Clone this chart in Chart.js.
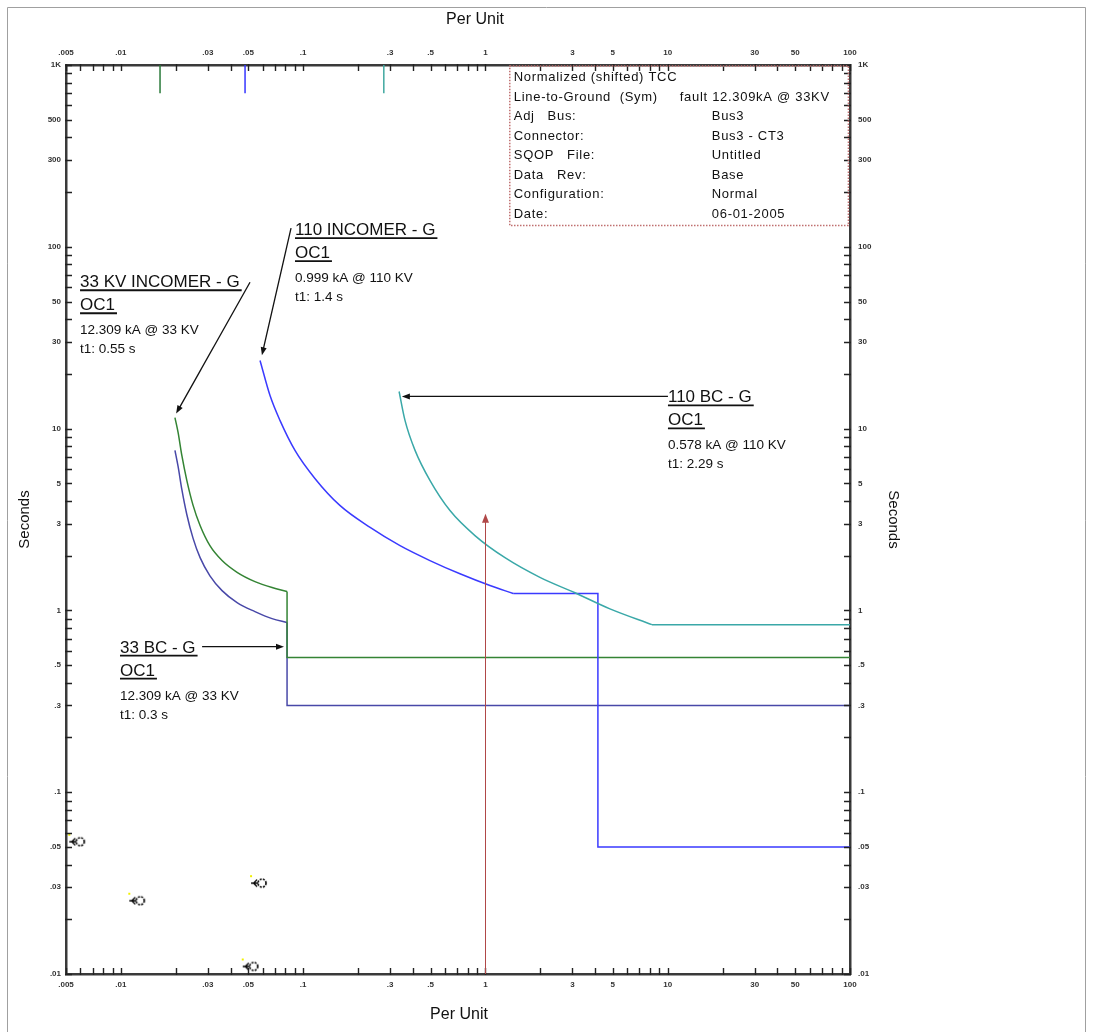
<!DOCTYPE html>
<html><head><meta charset="utf-8">
<script src="https://cdn.jsdelivr.net/npm/chart.js@4/dist/chart.umd.min.js"></script>
<style>html,body{margin:0;padding:0;background:#fff;}canvas{display:block;}</style>
</head><body>
<canvas id="c" width="1107" height="1032"></canvas>
<script>
// ---- tick labels ----
const xTickValues = [0.005,0.01,0.03,0.05,0.1,0.3,0.5,1,3,5,10,30,50,100];
const xTickLabels = ['.005','.01','.03','.05','.1','.3','.5','1','3','5','10','30','50','100'];
const yTickValues = [0.01,0.03,0.05,0.1,0.3,0.5,1,3,5,10,30,50,100,300,500,1000];
const yTickLabels = ['.01','.03','.05','.1','.3','.5','1','3','5','10','30','50','100','300','500','1K'];

// ---- series (per unit, seconds); the inverse-time curve ends at index "knee", the rest is the step part ----
const incomer33X = [0.0198,0.0206,0.0216,0.0230,0.0249,0.0272,0.0308,0.0359,0.0434,0.0544,0.0675,0.0816,0.0816,100];
const incomer33Y = [11.5,9.53,7.12,5.19,3.78,2.93,2.27,1.88,1.62,1.44,1.335,1.27,0.55,0.55];
const incomer33Knee = 11;
const bc33X = [0.0198,0.0206,0.0216,0.0230,0.0249,0.0272,0.0308,0.0359,0.0434,0.0544,0.0675,0.0816,0.0816,100];
const bc33Y = [7.59,6.19,4.63,3.37,2.49,1.95,1.55,1.285,1.104,0.985,0.901,0.857,0.30,0.30];
const bc33Knee = 11;
const incomer110X = [0.0580,0.0658,0.0746,0.0902,0.116,0.159,0.233,0.340,0.496,0.725,1.059,1.42,4.14,4.14,100];
const incomer110Y = [23.7,15.2,11.1,7.59,5.32,3.78,2.86,2.27,1.88,1.59,1.37,1.24,1.24,0.05,0.05];
const incomer110Knee = 11;
const bc110X = [0.336,0.362,0.411,0.496,0.639,0.876,1.28,1.99,3.10,4.82,8.19,100];
const bc110Y = [16.0,11.1,7.59,5.19,3.54,2.58,1.95,1.52,1.25,1.02,0.835,0.835];
const bc110Knee = 10;
// fault markers at the top edge
const faultMarkX = [0.0164,0.048,0.277];
const faultMarkTop = 1000, faultMarkBottom = 700;
// reference arrow at 1 per unit
const refArrowX = 1, refArrowY = [0.01, 3.4];
// small device symbols near the bottom left
const symbolX = [0.00584,0.01246,0.0580,0.0522];
const symbolY = [0.0534,0.0253,0.0316,0.0110];

const infoRows = [
  ['Normalized (shifted) TCC','',''],
  ['Line-to-Ground  (Sym)','fault 12.309kA @ 33KV',''],
  ['Adj   Bus:','','Bus3'],
  ['Connector:','','Bus3 - CT3'],
  ['SQOP   File:','','Untitled'],
  ['Data   Rev:','','Base'],
  ['Configuration:','','Normal'],
  ['Date:','','06-01-2005']
];
const infoBox = {x0:1.36, x1:98, y0:1000, y1:131};

const labels = [
  {lines:['33 KV INCOMER - G','OC1','12.309 kA @ 33 KV','t1: 0.55 s'], x:0.00597, y:59.9, from:[0.0511,63.8], to:[0.0201,12.1]},
  {lines:['110 INCOMER - G','OC1','0.999 kA @ 110 KV','t1: 1.4 s'], x:0.0902, y:115.8, from:[0.0858,126.6], to:[0.0594,25.3]},
  {lines:['110 BC - G','OC1','0.578 kA @ 110 KV','t1: 2.29 s'], x:10.03, y:13.94, from:[10.03,15.04], to:[0.348,15.04]},
  {lines:['33 BC - G','OC1','12.309 kA @ 33 KV','t1: 0.3 s'], x:0.00989, y:0.586, from:[0.0279,0.632], to:[0.0785,0.632]}
];

const FONT = '"Liberation Sans", Arial, sans-serif';
const pts = (xs, ys) => xs.map((x,i)=>({x, y: ys[i]}));

function makeSymbol(){
  const c=document.createElement('canvas'); c.width=24; c.height=18;
  const g=c.getContext('2d');
  g.fillStyle='#f0f000'; g.fillRect(2,1,2,2);
  g.strokeStyle='#000'; g.lineWidth=1.6;
  g.setLineDash([2,1.2]);
  g.beginPath(); g.arc(14,9,4,0,Math.PI*2); g.stroke();
  g.setLineDash([]);
  g.lineWidth=1.3;
  g.beginPath(); g.moveTo(3,9); g.lineTo(10,9); g.moveTo(9,5.5); g.lineTo(5.5,9); g.lineTo(9,12.5); g.stroke();
  return c;
}

function minorValues(min,max){
  const out=[];
  for(let e=-4;e<=4;e++){ for(let m=1;m<=9;m++){ const v=+(m*Math.pow(10,e)).toPrecision(6); if(v>=min*0.9999 && v<=max*1.0001) out.push(v);} }
  return out;
}

function tickCb(values, labs){
  return function(value){ const i=values.findIndex(v=>Math.abs(v-value)/v<1e-6); return i>=0?labs[i]:''; };
}

const tickFont = {family: FONT, size: 8, weight: 'bold'};
function axis(position, values, labs, extra){
  return Object.assign({
    type:'logarithmic', position,
    grid:{display:false, drawTicks:false},
    border:{display:true, color:'#3a3a3a', width:2.5},
    afterBuildTicks: s => { s.ticks = values.map(v=>({value:v})); }
  }, extra);
}

const decor = {
  id:'decor',
  afterDatasetsDraw(chart){
    const ctx=chart.ctx, xs=chart.scales.x, ys=chart.scales.y, a=chart.chartArea;
    const X=v=>xs.getPixelForValue(v), Y=v=>ys.getPixelForValue(v);
    ctx.save();
    // inward ticks
    ctx.strokeStyle='#222'; ctx.lineWidth=1.4;
    ctx.beginPath();
    minorValues(0.005,100).forEach(v=>{ const px=Math.round(X(v))+0.5;
      ctx.moveTo(px,a.top-1); ctx.lineTo(px,a.top+6);
      ctx.moveTo(px,a.bottom+1); ctx.lineTo(px,a.bottom-6); });
    minorValues(0.01,1000).forEach(v=>{ const py=Math.round(Y(v))+0.5;
      ctx.moveTo(a.left-1,py); ctx.lineTo(a.left+6,py);
      ctx.moveTo(a.right+1,py); ctx.lineTo(a.right-6,py); });
    ctx.stroke();

    // fault markers at top
    const fcol=['#2a7a3a','#3535ff','#40a8a0'];
    ctx.lineWidth=1.5;
    faultMarkX.forEach((v,i)=>{ ctx.strokeStyle=fcol[i]; ctx.beginPath();
      ctx.moveTo(X(v),Y(faultMarkTop)); ctx.lineTo(X(v),Y(faultMarkBottom)); ctx.stroke(); });

    // reference arrow
    ctx.strokeStyle='#b04848'; ctx.fillStyle='#b04848'; ctx.lineWidth=1;
    const rx=Math.round(X(refArrowX))+0.5, ry0=Y(refArrowY[0]), ry1=Y(refArrowY[1]);
    ctx.beginPath(); ctx.moveTo(rx,ry0); ctx.lineTo(rx,ry1+4); ctx.stroke();
    ctx.beginPath(); ctx.moveTo(rx,ry1); ctx.lineTo(rx-3.5,ry1+9); ctx.lineTo(rx+3.5,ry1+9); ctx.closePath(); ctx.fill();

    // info box
    const bx0=X(infoBox.x0), bx1=X(infoBox.x1), by0=Y(infoBox.y0), by1=Y(infoBox.y1);
    ctx.strokeStyle='#c07070'; ctx.lineWidth=1.5; ctx.setLineDash([1.5,1.5]);
    ctx.strokeRect(bx0, by0+1, bx1-bx0, by1-by0-1);
    ctx.setLineDash([]);
    ctx.fillStyle='#111'; ctx.font='13px '+FONT; ctx.textBaseline='alphabetic';
    ctx.letterSpacing='0.7px';
    infoRows.forEach((r,i)=>{ const yy=by0+16+i*19.5;
      ctx.fillText(r[0], bx0+4, yy);
      if(r[1]) ctx.fillText(r[1], bx0+170, yy);
      if(r[2]) ctx.fillText(r[2], bx0+202, yy); });
    ctx.letterSpacing='0px';

    // device labels + arrows
    const offs=[0,23,47,66], sizes=[17,17,13.5,13.5];
    labels.forEach(L=>{
      const lx=X(L.x), ly=Y(L.y);
      L.lines.forEach((t,i)=>{
        ctx.font=sizes[i]+'px '+FONT; ctx.fillStyle='#111';
        ctx.fillText(t, lx, ly+offs[i]);
        if(i<2){ const w=ctx.measureText(t).width;
          ctx.strokeStyle='#111'; ctx.lineWidth=1.8; ctx.beginPath();
          ctx.moveTo(lx, ly+offs[i]+3); ctx.lineTo(lx+w+2, ly+offs[i]+3); ctx.stroke(); }
      });
      const fx=X(L.from[0]), fy=Y(L.from[1]), tx=X(L.to[0]), ty=Y(L.to[1]);
      const ang=Math.atan2(ty-fy, tx-fx);
      ctx.strokeStyle='#111'; ctx.fillStyle='#111'; ctx.lineWidth=1.3;
      ctx.beginPath(); ctx.moveTo(fx,fy); ctx.lineTo(tx-6*Math.cos(ang), ty-6*Math.sin(ang)); ctx.stroke();
      ctx.beginPath(); ctx.moveTo(tx,ty);
      ctx.lineTo(tx-8*Math.cos(ang)+3*Math.sin(ang), ty-8*Math.sin(ang)-3*Math.cos(ang));
      ctx.lineTo(tx-8*Math.cos(ang)-3*Math.sin(ang), ty-8*Math.sin(ang)+3*Math.cos(ang));
      ctx.closePath(); ctx.fill();
    });
    ctx.restore();
  },
  afterDraw(chart){
    const ctx=chart.ctx, a=chart.chartArea;
    ctx.save();
    ctx.strokeStyle='#a0a0a0'; ctx.lineWidth=1;
    ctx.beginPath(); ctx.moveTo(7.5,1040); ctx.lineTo(7.5,7.5); ctx.lineTo(1085.5,7.5); ctx.lineTo(1085.5,1040); ctx.stroke();
    ctx.fillStyle='#111'; ctx.font='16px '+FONT; ctx.textAlign='center'; ctx.textBaseline='middle';
    ctx.fillText('Per Unit', 475, 20);
    ctx.fillText('Per Unit', 459, 1015);
    ctx.font='15px '+FONT;
    ctx.save(); ctx.translate(25,(a.top+a.bottom)/2); ctx.rotate(-Math.PI/2); ctx.fillText('Seconds',0,0); ctx.restore();
    ctx.save(); ctx.translate(893,(a.top+a.bottom)/2); ctx.rotate(Math.PI/2); ctx.fillText('Seconds',0,0); ctx.restore();
    ctx.restore();
  }
};

const curveDs = (xs, ys, knee, color) => ({data: pts(xs.slice(0,knee+1), ys.slice(0,knee+1)), showLine:true, borderColor:color, backgroundColor:color, borderWidth:1.5, pointRadius:0, cubicInterpolationMode:'monotone', xAxisID:'x', yAxisID:'y'});
const stepDs = (xs, ys, knee, color) => ({data: pts(xs.slice(knee), ys.slice(knee)), showLine:true, borderColor:color, backgroundColor:color, borderWidth:1.5, pointRadius:0, tension:0, xAxisID:'x', yAxisID:'y'});

const C110BC='#3aa8a8', C110IN='#3a3aff', C33IN='#348434', C33BC='#4848a8';
const tk = (vals, labs, pad) => ({font:tickFont, color:'#333', autoSkip:false, maxRotation:0, padding:pad, callback:tickCb(vals,labs)});

new Chart(document.getElementById('c'), {
  type:'scatter',
  data:{datasets:[
    curveDs(bc110X,bc110Y,bc110Knee,C110BC), stepDs(bc110X,bc110Y,bc110Knee,C110BC),
    curveDs(incomer110X,incomer110Y,incomer110Knee,C110IN), stepDs(incomer110X,incomer110Y,incomer110Knee,C110IN),
    curveDs(incomer33X,incomer33Y,incomer33Knee,C33IN), stepDs(incomer33X,incomer33Y,incomer33Knee,C33IN),
    curveDs(bc33X,bc33Y,bc33Knee,C33BC), stepDs(bc33X,bc33Y,bc33Knee,C33BC),
    {data:pts(symbolX,symbolY), pointStyle:makeSymbol(), pointRadius:9, showLine:false, xAxisID:'x', yAxisID:'y'}
  ]},
  options:{
    responsive:false, animation:false, events:[],
    layout:{padding:0},
    plugins:{legend:{display:false}, tooltip:{enabled:false}},
    scales:{
      x: axis('bottom', xTickValues, xTickLabels, {min:0.005, max:100, afterFit:s=>{s.height=58;}, ticks:tk(xTickValues,xTickLabels,6)}),
      x2: axis('top', xTickValues, xTickLabels, {min:0.005, max:100, afterFit:s=>{s.height=65;}, ticks:tk(xTickValues,xTickLabels,7)}),
      y: axis('left', yTickValues, yTickLabels, {min:0.01, max:1000, afterFit:s=>{s.width=66;}, ticks:tk(yTickValues,yTickLabels,5)}),
      y2: axis('right', yTickValues, yTickLabels, {min:0.01, max:1000, afterFit:s=>{s.width=257;}, ticks:tk(yTickValues,yTickLabels,8)})
    }
  },
  plugins:[decor]
});
</script>
</body></html>
